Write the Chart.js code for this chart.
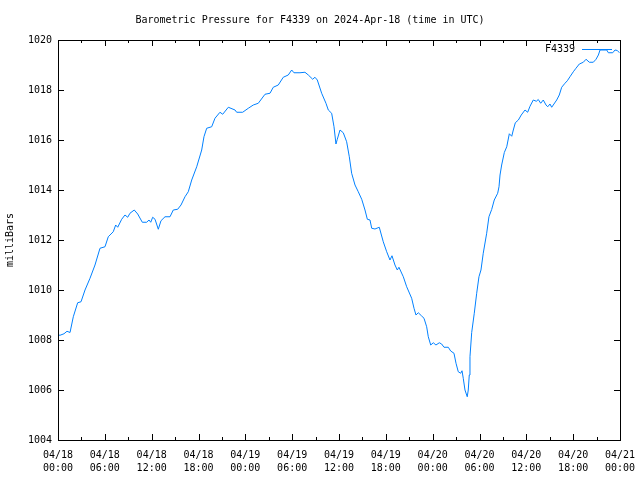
<!DOCTYPE html>
<html>
<head>
<meta charset="utf-8">
<script src="https://cdn.jsdelivr.net/npm/chart.js@4.4.1/dist/chart.umd.min.js"></script>
<style>
  body { margin: 0; background: #fff; }
  #wrap { width: 640px; height: 480px; }
</style>
</head>
<body>
<div id="wrap"><canvas id="myChart" width="640" height="480"></canvas></div>
<script>
// hours since 2024-04-18 00:00 UTC
const hours = [0.0, 0.26, 0.77, 1.15, 1.54, 1.96, 2.52, 2.95, 3.46, 4.10, 4.74, 5.38, 6.02, 6.44, 7.08, 7.39, 7.65, 8.16, 8.58, 8.93,
  9.22, 9.77, 10.21, 10.80, 11.36, 11.66, 11.88, 12.13, 12.43, 12.85, 13.19, 13.71, 14.35, 14.77, 15.33, 15.76, 16.27, 16.69, 17.13, 17.77,
  18.41, 18.70, 19.05, 19.69, 20.11, 20.75, 21.10, 21.82, 22.68, 22.89, 23.66, 24.38, 25.02, 25.66, 26.52, 27.16, 27.58, 28.22, 28.86, 29.50,
  29.94, 30.23, 31.00, 31.64, 32.07, 32.63, 32.92, 33.22, 33.78, 34.33, 34.63, 35.06, 35.36, 35.61, 35.78, 36.13, 36.55, 36.98, 37.32, 37.62,
  38.05, 38.47, 38.91, 39.33, 39.63, 39.97, 40.19, 40.61, 41.16, 41.67, 42.11, 42.53, 42.79, 43.17, 43.47, 43.68, 44.24, 44.67, 45.31, 45.61,
  45.86, 46.16, 46.59, 46.89, 47.23, 47.44, 47.75, 48.08, 48.42, 48.85, 49.15, 49.45, 50.00, 50.31, 50.73, 50.99, 51.28, 51.59, 51.76, 51.92,
  52.14, 52.43, 52.56, 52.69, 52.78, 53.00, 53.33, 53.64, 53.93, 54.19, 54.48, 54.92, 55.21, 55.56, 55.89, 56.33, 56.50, 56.63, 56.84, 57.18,
  57.49, 57.82, 58.13, 58.33, 58.59, 58.98, 59.35, 59.83, 60.17, 60.47, 60.89, 61.28, 61.53, 61.84, 62.17, 62.52, 62.74, 63.03, 63.25, 63.45,
  63.89, 64.22, 64.53, 64.95, 65.25, 65.59, 66.02, 66.36, 66.79, 67.30, 67.65, 68.07, 68.58, 68.93, 69.23, 69.44, 70.30, 70.51, 71.07, 71.36,
  71.66, 71.92];
const pressure = [1008.20, 1008.19, 1008.25, 1008.35, 1008.30, 1008.93, 1009.49, 1009.53, 1010.00, 1010.47, 1011.00, 1011.67, 1011.73, 1012.13, 1012.33, 1012.60, 1012.51, 1012.83, 1013.00, 1012.91,
  1013.07, 1013.20, 1013.04, 1012.71, 1012.71, 1012.80, 1012.71, 1012.91, 1012.83, 1012.43, 1012.77, 1012.93, 1012.93, 1013.20, 1013.23, 1013.40, 1013.73, 1013.93, 1014.40, 1014.93,
  1015.60, 1016.13, 1016.47, 1016.53, 1016.87, 1017.11, 1017.03, 1017.31, 1017.20, 1017.11, 1017.11, 1017.27, 1017.40, 1017.47, 1017.83, 1017.87, 1018.11, 1018.20, 1018.51, 1018.60,
  1018.80, 1018.69, 1018.69, 1018.71, 1018.60, 1018.43, 1018.51, 1018.40, 1017.87, 1017.47, 1017.20, 1017.07, 1016.53, 1015.84, 1016.03, 1016.40, 1016.29, 1015.93, 1015.33, 1014.67,
  1014.20, 1013.93, 1013.63, 1013.20, 1012.83, 1012.80, 1012.47, 1012.44, 1012.51, 1011.93, 1011.53, 1011.20, 1011.37, 1011.00, 1010.80, 1010.91, 1010.53, 1010.13, 1009.67, 1009.27,
  1009.00, 1009.09, 1008.96, 1008.87, 1008.53, 1008.13, 1007.80, 1007.89, 1007.80, 1007.89, 1007.84, 1007.71, 1007.71, 1007.56, 1007.47, 1007.07, 1006.73, 1006.67, 1006.77, 1006.47,
  1006.00, 1005.73, 1006.00, 1006.60, 1007.33, 1008.30, 1009.07, 1009.87, 1010.53, 1010.80, 1011.47, 1012.27, 1012.93, 1013.22, 1013.60, 1013.87, 1014.13, 1014.60, 1015.00, 1015.50,
  1015.73, 1016.25, 1016.15, 1016.40, 1016.69, 1016.80, 1017.00, 1017.20, 1017.11, 1017.35, 1017.60, 1017.55, 1017.62, 1017.47, 1017.60, 1017.40, 1017.33, 1017.44, 1017.31, 1017.40,
  1017.60, 1017.80, 1018.11, 1018.27, 1018.37, 1018.53, 1018.73, 1018.87, 1019.04, 1019.11, 1019.23, 1019.11, 1019.11, 1019.23, 1019.40, 1019.60, 1019.60, 1019.49, 1019.49, 1019.60,
  1019.58, 1019.49];

const dayLabels = ["04/18", "04/19", "04/20", "04/21"];
const hourLabels = ["00:00", "06:00", "12:00", "18:00"];
const seriesName = "F4339";

const font = "'DejaVu Sans Mono', 'Liberation Mono', monospace";
const lineColor = "rgb(0,128,255)";

// gnuplot-style frame: box, inward ticks (mirrored), legend inside the plot
const framePlugin = {
  id: "frame",
  afterDraw(chart) {
    const {ctx, chartArea: a, scales: {x, y}} = chart;
    ctx.save();
    ctx.strokeStyle = "#000";
    ctx.lineWidth = 1;
    ctx.beginPath();
    for (let h = 0; h <= 72; h += 3) {
      const px = Math.round(x.getPixelForValue(h)) + 0.5;
      const len = h % 6 === 0 ? 6 : 3;
      ctx.moveTo(px, a.bottom); ctx.lineTo(px, a.bottom - len);
      ctx.moveTo(px, a.top); ctx.lineTo(px, a.top + len);
    }
    for (let v = 1004; v <= 1020; v += 2) {
      const py = Math.round(y.getPixelForValue(v)) + 0.5;
      ctx.moveTo(a.left, py); ctx.lineTo(a.left + 6, py);
      ctx.moveTo(a.right, py); ctx.lineTo(a.right - 6, py);
    }
    ctx.stroke();
    ctx.strokeRect(Math.round(a.left) + 0.5, Math.round(a.top) + 0.5,
      Math.round(a.right - a.left), Math.round(a.bottom - a.top));

    // legend
    ctx.font = "10px " + font;
    ctx.fillStyle = "#000";
    ctx.textAlign = "right";
    ctx.textBaseline = "middle";
    ctx.fillText(seriesName, a.right - 45, a.top + 9);
    ctx.strokeStyle = lineColor;
    ctx.beginPath();
    ctx.moveTo(a.right - 38, a.top + 9.5);
    ctx.lineTo(a.right - 8, a.top + 9.5);
    ctx.stroke();
    ctx.restore();
  }
};

const ctx = document.getElementById("myChart");

new Chart(ctx, {
  type: "line",
  data: {
    datasets: [{
      label: seriesName,
      data: hours.map((h, i) => ({x: h, y: pressure[i]})),
      borderColor: lineColor,
      borderWidth: 1,
      pointRadius: 0,
      tension: 0,
      fill: false
    }]
  },
  options: {
    responsive: false,
    animation: false,
    devicePixelRatio: 1,
    layout: {padding: {left: 0, right: 20, top: 0, bottom: 0}},
    plugins: {
      legend: {display: false},
      tooltip: {enabled: false},
      title: {
        display: true,
        text: "Barometric Pressure for F4339 on 2024-Apr-18 (time in UTC)",
        color: "#000",
        font: {family: font, size: 10, weight: "normal", lineHeight: 1.2},
        padding: {top: 14, bottom: 14}
      }
    },
    scales: {
      x: {
        type: "linear",
        min: 0,
        max: 72,
        afterFit: s => { s.height = 40; s.paddingLeft = 0; s.paddingRight = 0; },
        grid: {display: false, drawTicks: false},
        border: {display: false},
        ticks: {
          stepSize: 6,
          autoSkip: false,
          maxRotation: 0,
          padding: 9,
          color: "#000",
          font: {family: font, size: 10, lineHeight: 1.3},
          callback: v => [dayLabels[Math.floor(v / 24)], hourLabels[(v % 24) / 6]]
        }
      },
      y: {
        min: 1004,
        max: 1020,
        afterFit: s => { s.width = 58; s.paddingTop = 0; s.paddingBottom = 0; },
        grid: {display: false, drawTicks: false},
        border: {display: false},
        ticks: {
          stepSize: 2,
          padding: 6,
          color: "#000",
          font: {family: font, size: 10},
          callback: v => String(v)
        },
        title: {
          display: true,
          text: "milliBars",
          color: "#000",
          font: {family: font, size: 10},
          padding: {top: 4, bottom: 0}
        }
      }
    }
  },
  plugins: [framePlugin]
});
</script>
</body>
</html>
